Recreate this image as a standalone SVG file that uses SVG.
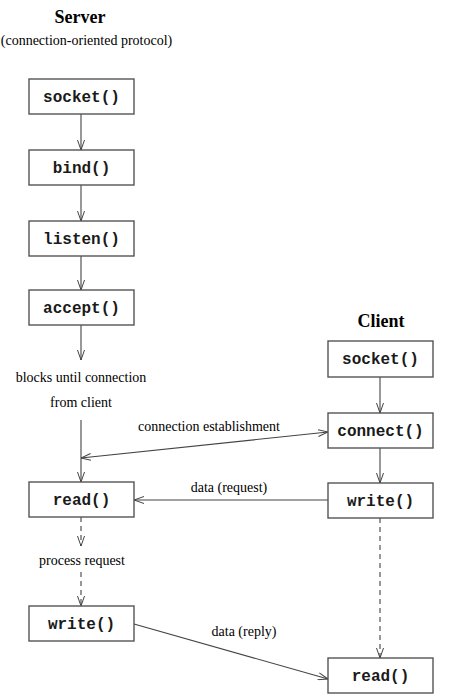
<svg xmlns="http://www.w3.org/2000/svg" width="453" height="695" viewBox="0 0 453 695">
<defs>
<marker id="ah" viewBox="0 0 10 8" refX="10" refY="4" markerWidth="10" markerHeight="8" markerUnits="userSpaceOnUse" orient="auto-start-reverse">
<path d="M0,0.5 L10,4 L0,7.5" fill="none" stroke="#444" stroke-width="1"/>
</marker>
</defs>
<style>
.box{fill:#fff;stroke:#555;stroke-width:1.4}
.fn{font-family:"Liberation Mono","Courier New",monospace;font-size:16px;font-weight:bold;fill:#1a1a1a;text-anchor:middle}
.title{font-family:"Liberation Serif","Times New Roman",serif;font-size:18px;font-weight:bold;fill:#000;text-anchor:middle}
.lbl{font-family:"Liberation Serif","Times New Roman",serif;font-size:14px;fill:#000;text-anchor:middle}
.ln{stroke:#444;stroke-width:1.1;fill:none}
.dash{stroke-dasharray:5,4}
</style>
<rect width="453" height="695" fill="#fff"/>
<text class="title" x="80" y="23">Server</text>
<text class="lbl" x="86.5" y="45">(connection-oriented protocol)</text>
<text class="title" x="381" y="327">Client</text>

<g id="connectors">
<line class="ln" x1="81" y1="114" x2="81" y2="150" marker-end="url(#ah)"/>
<line class="ln" x1="81" y1="185" x2="81" y2="221" marker-end="url(#ah)"/>
<line class="ln" x1="81" y1="256" x2="81" y2="290" marker-end="url(#ah)"/>
<line class="ln" x1="81" y1="325" x2="81" y2="360" marker-end="url(#ah)"/>
<text class="lbl" x="81" y="382">blocks until connection</text>
<text class="lbl" x="81" y="407">from client</text>
<line class="ln" x1="81" y1="420" x2="81" y2="482" marker-end="url(#ah)"/>
<line class="ln" x1="81" y1="458" x2="328" y2="432" marker-start="url(#ah)" marker-end="url(#ah)"/>
<text class="lbl" x="209" y="431">connection establishment</text>
<line class="ln" x1="380" y1="377" x2="380" y2="413" marker-end="url(#ah)"/>
<line class="ln" x1="380" y1="448" x2="380" y2="483" marker-end="url(#ah)"/>
<line class="ln" x1="328" y1="500" x2="134" y2="500" marker-end="url(#ah)"/>
<text class="lbl" x="229" y="492">data (request)</text>
<line class="ln dash" x1="81" y1="517" x2="81" y2="546" marker-end="url(#ah)"/>
<text class="lbl" x="82" y="565">process request</text>
<line class="ln dash" x1="81" y1="572" x2="81" y2="606" marker-end="url(#ah)"/>
<line class="ln" x1="134" y1="624" x2="328" y2="679" marker-end="url(#ah)"/>
<text class="lbl" x="244" y="636">data (reply)</text>
<line class="ln dash" x1="380" y1="518" x2="380" y2="658" marker-end="url(#ah)"/>
</g>

<g id="s-socket"><rect class="box" x="29" y="79" width="105" height="35"/><text class="fn" x="81.5" y="102">socket()</text></g>
<g id="s-bind"><rect class="box" x="29" y="150" width="105" height="35"/><text class="fn" x="81.5" y="173">bind()</text></g>
<g id="s-listen"><rect class="box" x="29" y="221" width="105" height="35"/><text class="fn" x="81.5" y="244">listen()</text></g>
<g id="s-accept"><rect class="box" x="29" y="290" width="105" height="35"/><text class="fn" x="81.5" y="313">accept()</text></g>
<g id="s-read"><rect class="box" x="29" y="482" width="105" height="35"/><text class="fn" x="81.5" y="505">read()</text></g>
<g id="s-write"><rect class="box" x="29" y="606" width="105" height="35"/><text class="fn" x="81.5" y="629">write()</text></g>

<g id="c-socket"><rect class="box" x="328" y="341" width="105" height="36"/><text class="fn" x="380.5" y="364">socket()</text></g>
<g id="c-connect"><rect class="box" x="328" y="413" width="105" height="35"/><text class="fn" x="380.5" y="436">connect()</text></g>
<g id="c-write"><rect class="box" x="328" y="483" width="105" height="35"/><text class="fn" x="380.5" y="506">write()</text></g>
<g id="c-read"><rect class="box" x="328" y="658" width="105" height="35"/><text class="fn" x="380.5" y="681">read()</text></g>
</svg>
